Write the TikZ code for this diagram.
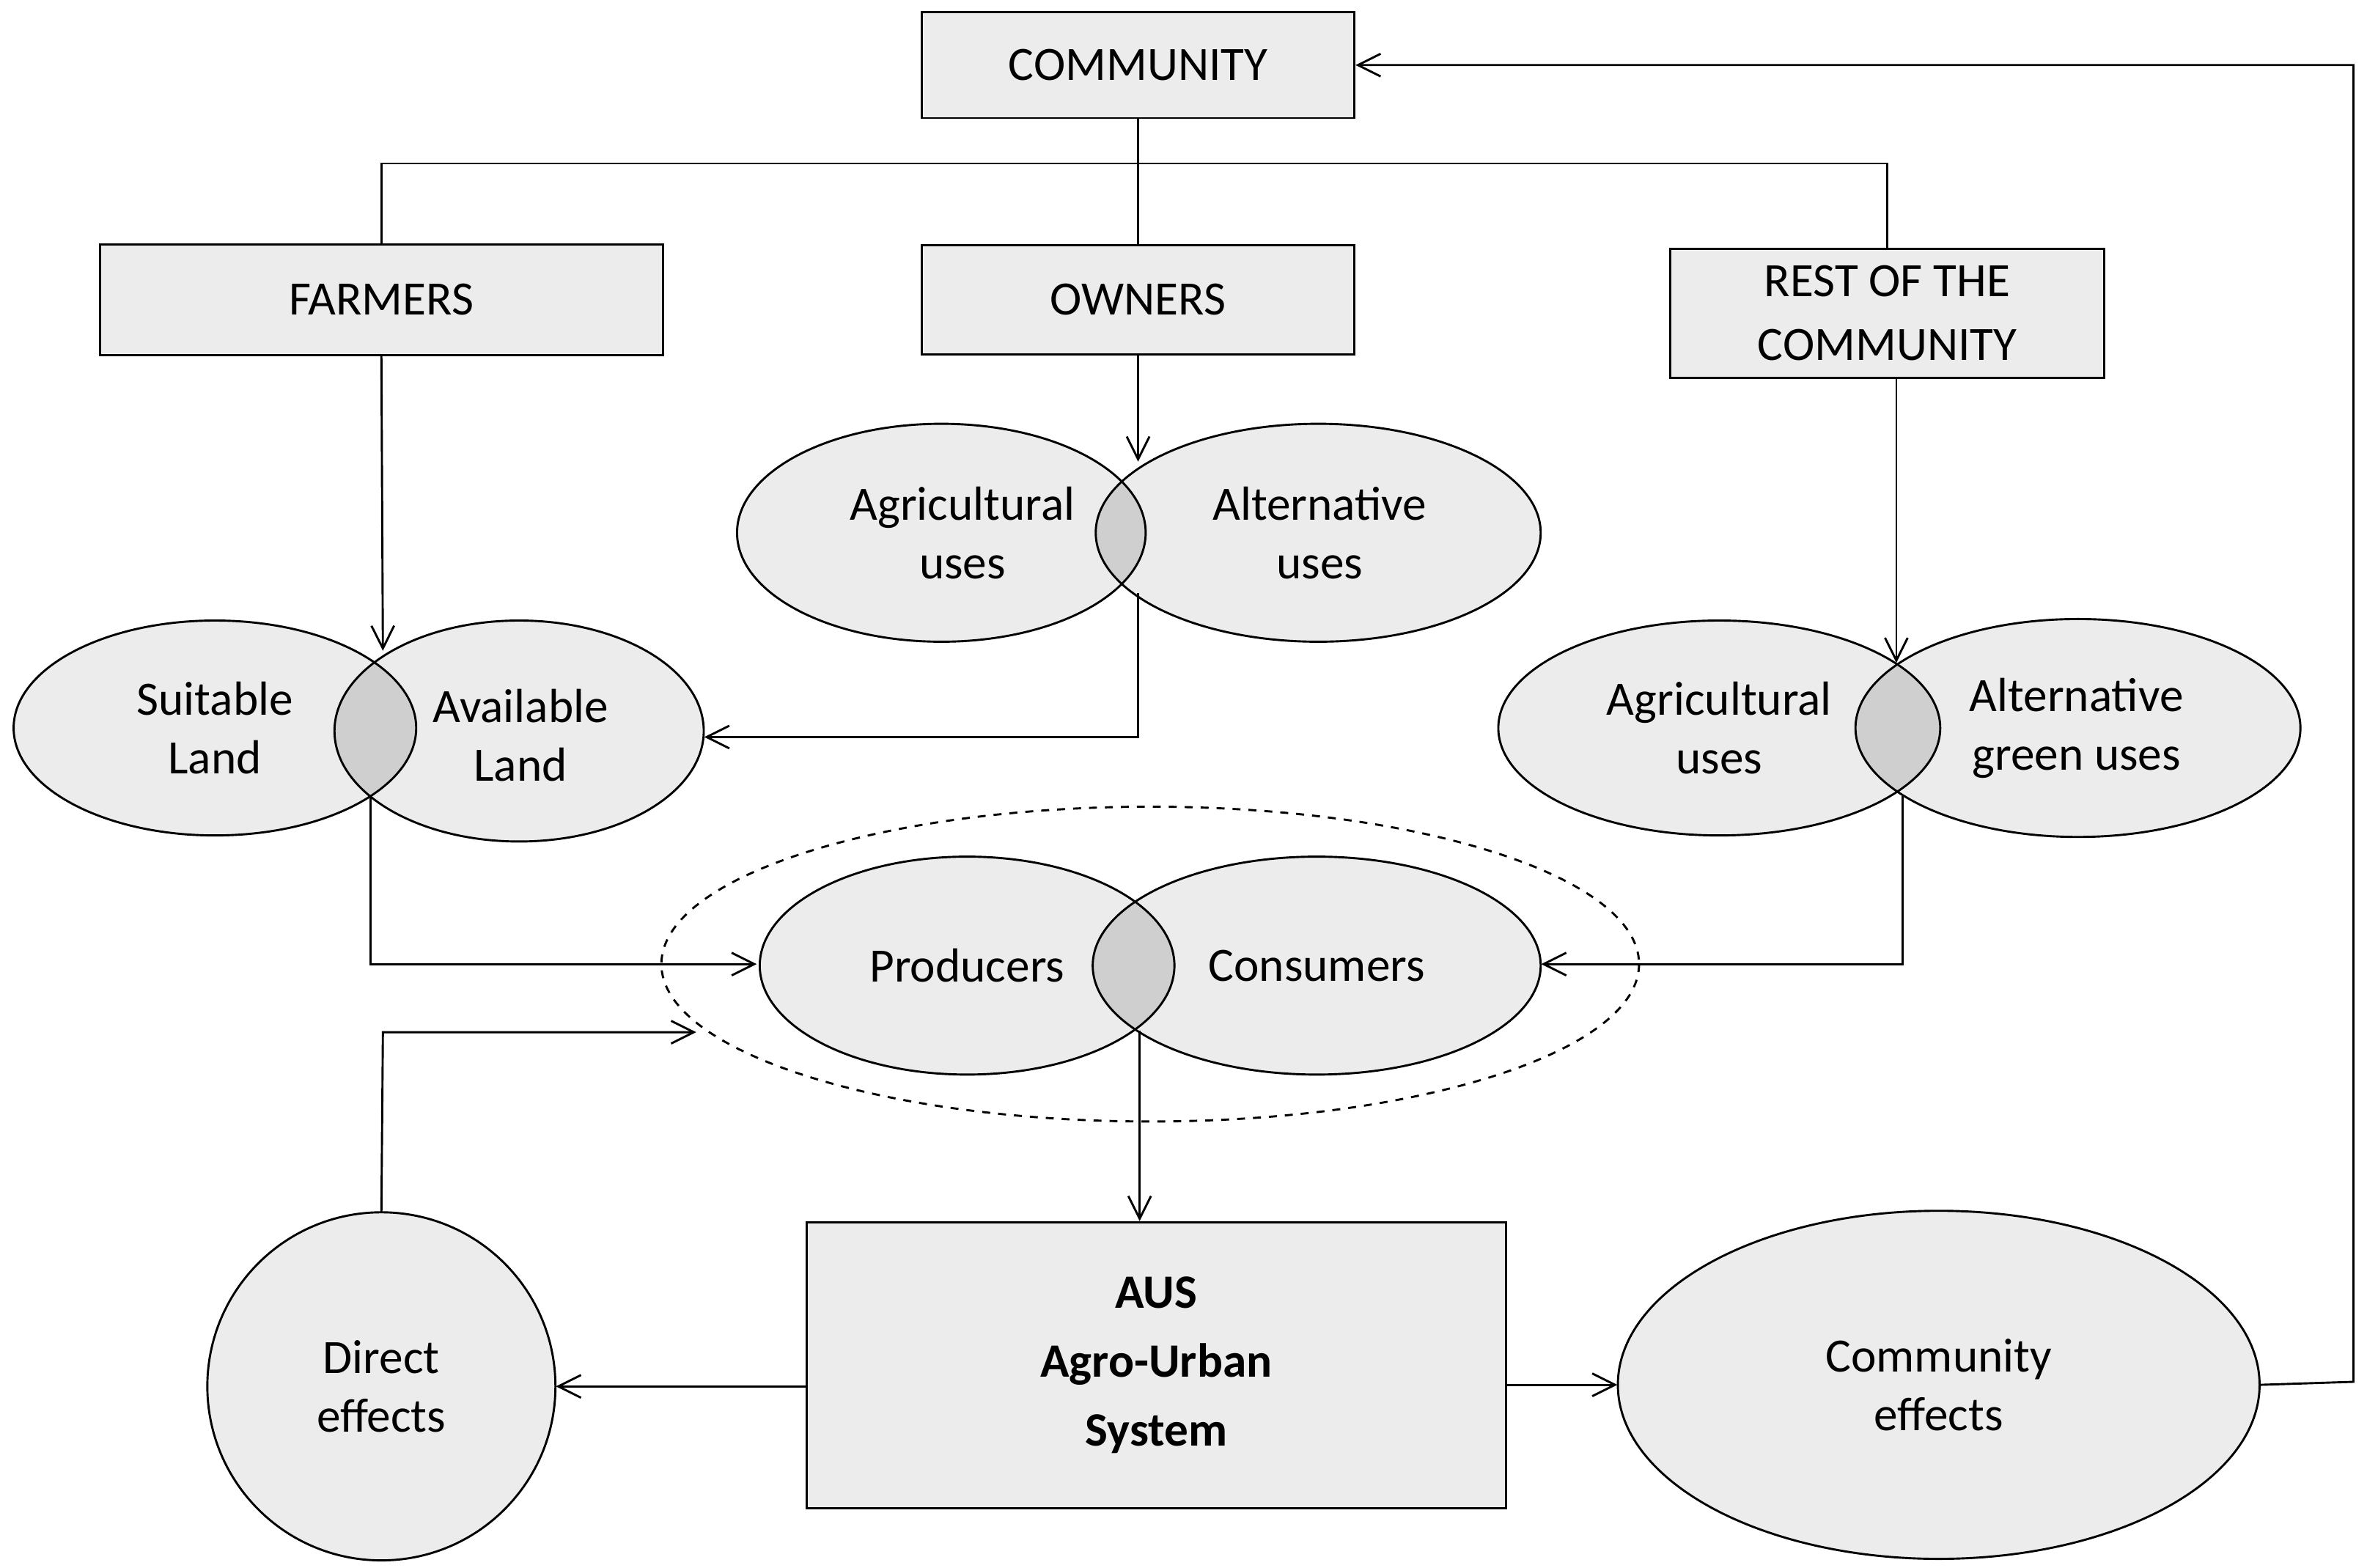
\documentclass[tikz,border=0pt]{standalone}
\usepackage{fontspec}
\setmainfont{Carlito}
\usetikzlibrary{arrows.meta,shapes.geometric,calc}
\begin{document}
\begin{tikzpicture}[x=0.02cm,y=-0.02cm,
  box/.style={draw,fill=gray!15,line width=0.8pt,inner sep=0pt,font=\fontsize{18}{24}\selectfont,align=center},
  lbl/.style={font=\fontsize{18}{22}\selectfont,align=center},
  arr/.style={-{Straight Barb[length=3mm,width=3mm]},line width=0.8pt},
  ln/.style={line width=0.8pt},
  ell/.style={draw,fill=gray!15,line width=0.8pt},
  ovl/.style={fill=gray!38}]
\useasboundingbox (0,0) rectangle (1564,1036);
% boxes
\node[box,minimum width=5.72cm,minimum height=1.4cm] (community) at (752,43) {COMMUNITY};
\node[box,minimum width=7.44cm,minimum height=1.46cm] (farmers) at (252,198) {FARMERS};
\node[box,minimum width=5.72cm,minimum height=1.44cm] (owners) at (752,198) {OWNERS};
\node[box,minimum width=5.74cm,minimum height=1.7cm] (rest) at (1247,207) {REST OF THE\\COMMUNITY};
\node[box,minimum width=9.24cm,minimum height=3.78cm,font=\fontsize{18}{26}\selectfont\bfseries] (aus) at (764,902) {AUS\\Agro-Urban\\System};
% ellipses
\foreach \n/\x/\y/\a/\b in {oag/622/352/135/72, oal/871/352/147/72, fsu/142/481/133/71, fav/343/483/122/73,
  rag/1136/481/146/71, ral/1373/481/147/72, pro/639/638/137/72, con/870/638/148/72, ceff/1281/915/212/115}
  {\fill[gray!15] (\x,\y) ellipse [x radius=\a, y radius=\b];}
\fill[gray!15] (252,916) circle [radius=115];
\foreach \p/\q in {{(622,352) ellipse [x radius=135, y radius=72]}/{(871,352) ellipse [x radius=147, y radius=72]},
  {(142,481) ellipse [x radius=133, y radius=71]}/{(343,483) ellipse [x radius=122, y radius=73]},
  {(1136,481) ellipse [x radius=146, y radius=71]}/{(1373,481) ellipse [x radius=147, y radius=72]},
  {(639,638) ellipse [x radius=137, y radius=72]}/{(870,638) ellipse [x radius=148, y radius=72]}}
  {\begin{scope}\clip \p; \fill[gray!38] \q; \end{scope}}
\foreach \n/\x/\y/\a/\b in {oag/622/352/135/72, oal/871/352/147/72, fsu/142/481/133/71, fav/343/483/122/73,
  rag/1136/481/146/71, ral/1373/481/147/72, pro/639/638/137/72, con/870/638/148/72, ceff/1281/915/212/115}
  {\draw[ln] (\x,\y) ellipse [x radius=\a, y radius=\b];
   \node[ellipse,minimum width=2*\a*0.02cm,minimum height=2*\b*0.02cm,inner sep=0pt] (\n) at (\x,\y) {};}
\draw[ln] (252,916) circle [radius=115];
\node[circle,minimum size=4.6cm,inner sep=0pt] (deff) at (252,916) {};
\draw[dashed,line width=0.8pt] (760,637) ellipse [x radius=323, y radius=104];
\node[ellipse,minimum width=12.92cm,minimum height=4.16cm,inner sep=0pt] (dash) at (760,637) {};
% labels
\node[lbl] (t1) at (636,352) {Agricultural\\uses};
\node[lbl] (t2) at (872,352) {Alternative\\uses};
\node[lbl] (t3) at (142,481) {Suitable\\Land};
\node[lbl] (t4) at (344,486) {Available\\Land};
\node[lbl] (t5) at (1136,481) {Agricultural\\uses};
\node[lbl] (t6) at (1372,481) {Alternative\\green uses};
\node[lbl] (t7) at (639,638) {Producers};
\node[lbl] (t8) at (870,638) {Consumers};
\node[lbl] (t9) at (252,916) {Direct\\effects};
\node[lbl] (t10) at (1281,915) {Community\\effects};
% connectors
\coordinate (h) at (752,108);
\draw[ln] (community.south) -- (owners.north);
\draw[ln] (farmers.north) -- (farmers.north |- h) -- (rest.north |- h) -- (rest.north);
\draw[arr] (owners.south) -- (752,305);
\draw[arr] (farmers.south) -- (253,430);
\draw[arr] (1253,250) -- (1253,438);
\coordinate (oj) at (752,487);
\draw[arr] (752,392) -- (oj) -- (fav.east |- oj);
\coordinate (fj) at (245,637);
\draw[arr] (245,526) -- (fj) -- (500,637);
\coordinate (rj) at (1257,637);
\draw[arr] (1257,526) -- (rj) -- (con.east |- rj);
\draw[arr] (753,681) -- (aus.north -| 753,0);
\draw[arr] (aus.west |- deff) -- (deff.east);
\coordinate (dj) at (253,682);
\draw[arr] (deff.north) -- (dj) -- (460,682);
\draw[arr] (aus.east |- ceff) -- (ceff.west);
\coordinate (cj) at (1555,913);
\draw[arr] (ceff.east) -- (cj) -- (1555,43) -- (community.east);
\end{tikzpicture}
\end{document}
